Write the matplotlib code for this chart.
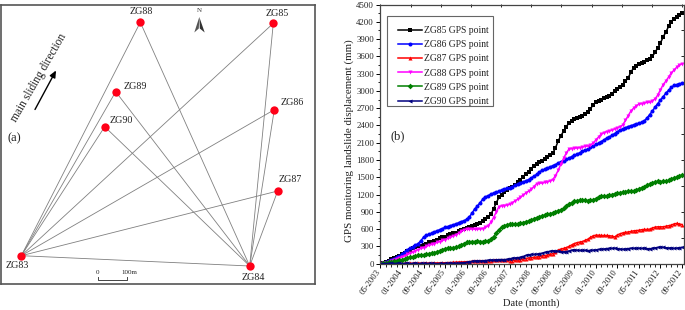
import matplotlib
matplotlib.use("Agg")
import matplotlib.pyplot as plt
from matplotlib.ticker import MultipleLocator, FixedLocator, NullFormatter
from matplotlib.patches import Polygon, Rectangle

plt.rcParams['font.family'] = ['Liberation Serif', 'DejaVu Serif']

W, H = 685, 310

# ---- panel (a) survey network, map positions
stations = ["ZG83", "ZG84", "ZG85", "ZG86", "ZG87", "ZG88", "ZG89", "ZG90"]
map_x = [21.3, 249.7, 273.3, 274.3, 277.7, 140.3, 115.7, 104.7]
map_y = [255.7, 266.0, 23.3, 109.7, 191.0, 22.3, 91.7, 126.7]
label_x = [17.3, 253.7, 276.7, 292.3, 289.7, 141.0, 135.7, 121.0]
label_y = [266.0, 277.0, 13.7, 102.3, 179.3, 12.0, 86.7, 120.7]

# ---- panel (b) monthly displacement (mm)
tick_months = ["05-2003", "01-2004", "09-2004", "05-2005", "01-2006", "09-2006", "05-2007", "01-2008",
               "09-2008", "05-2009", "01-2010", "09-2010", "05-2011", "01-2012", "09-2012"]
zg85 = [0, 15, 35, 55, 75, 95, 115, 135, 160, 190, 215, 245, 270, 285, 300, 315, 330, 350, 370, 385,
        400, 420, 440, 455, 470, 490, 510, 525, 540, 560, 585, 605, 625, 645, 660, 670, 685, 710, 740, 775,
        810, 860, 950, 1060, 1150, 1200, 1240, 1280, 1320, 1340, 1370, 1410, 1460, 1510, 1560, 1600,
        1650, 1700, 1730, 1760, 1780, 1810, 1850, 1880, 1920, 2010, 2130, 2220, 2300, 2380, 2440, 2480,
        2510, 2530, 2550, 2570, 2600, 2640, 2690, 2760, 2800, 2820, 2850, 2880, 2900, 2920, 2950, 3000,
        3040, 3070, 3110, 3170, 3230, 3320, 3400, 3440, 3470, 3490, 3510, 3530, 3550, 3600, 3670, 3750,
        3830, 3940, 4020, 4120, 4200, 4250, 4290, 4320, 4350]
zg86 = [0, 15, 30, 50, 70, 90, 110, 130, 160, 210, 240, 265, 290, 320, 350, 400, 460, 490, 510, 530,
        550, 570, 590, 610, 630, 645, 660, 675, 690, 710, 730, 745, 770, 810, 880, 950, 1000, 1060, 1120, 1160,
        1180, 1210, 1225, 1240, 1260, 1280, 1295, 1310, 1320, 1340, 1360, 1380, 1400, 1420, 1440, 1460,
        1490, 1520, 1550, 1590, 1620, 1640, 1660, 1680, 1700, 1720, 1750, 1770, 1790, 1810, 1830, 1860,
        1880, 1900, 1925, 1950, 1970, 1990, 2020, 2040, 2070, 2090, 2120, 2150, 2180, 2200, 2230, 2260,
        2290, 2320, 2340, 2360, 2380, 2395, 2410, 2425, 2440, 2455, 2480, 2530, 2590, 2650, 2720, 2780,
        2840, 2900, 2960, 3010, 3060, 3095, 3110, 3125, 3130]
zg87 = [0, 0, 2, 2, 3, 3, 5, 5, 3, 5, 8, 5, 6, 8, 10, 8, 10, 12, 10, 12,
        15, 12, 15, 18, 15, 18, 20, 22, 25, 28, 30, 32, 35, 35, 40, 45, 50, 52, 50, 48,
        50, 55, 58, 60, 62, 60, 60, 58, 55, 55, 60, 65, 72, 80, 90, 100,
        105, 110, 115, 125, 135, 140, 150, 160, 175, 200, 235, 255, 265, 280, 300, 325,
        350, 365, 375, 385, 405, 425, 455, 485, 495, 495, 490, 490, 490, 485, 480, 465,
        500, 520, 535, 545, 550, 560, 570, 575, 580, 590, 595, 595, 600, 620, 635, 640,
        640, 640, 650, 660, 670, 690, 700, 690, 680]
zg88 = [0, 5, 15, 30, 50, 70, 85, 100, 120, 140, 160, 180, 200, 225, 245, 265, 280, 300, 320, 335,
        350, 370, 385, 405, 420, 440, 460, 480, 500, 530, 560, 590, 600, 600, 605, 600, 600, 605, 610, 630,
        660, 720, 800, 900, 990, 1005, 1010, 1020, 1030, 1060, 1090, 1120, 1150, 1190, 1230, 1260,
        1290, 1340, 1390, 1400, 1400, 1410, 1420, 1440, 1460, 1530, 1620, 1730, 1830, 1920, 1990, 2000,
        2005, 2010, 2015, 2025, 2035, 2045, 2060, 2090, 2150, 2200, 2250, 2275, 2295, 2305, 2320, 2340,
        2360, 2380, 2410, 2490, 2570, 2650, 2700, 2740, 2770, 2780, 2790, 2800, 2800, 2830, 2860, 2930,
        3020, 3110, 3170, 3240, 3310, 3360, 3410, 3450, 3470]
zg89 = [0, 8, 15, 22, 30, 40, 50, 60, 70, 85, 100, 115, 120, 130, 145, 150, 150, 160, 175, 185,
        190, 205, 225, 245, 260, 270, 275, 280, 285, 300, 320, 350, 370, 380, 385, 385, 390, 385, 385, 390,
        400, 430, 470, 530, 590, 630, 660, 675, 685, 690, 690, 695, 700, 715, 730, 740,
        755, 780, 800, 815, 830, 845, 860, 870, 880, 900, 920, 935, 960, 1000, 1040, 1060,
        1080, 1095, 1100, 1105, 1100, 1095, 1100, 1110, 1130, 1160, 1175, 1180, 1175, 1190, 1200, 1215,
        1225, 1235, 1240, 1250, 1260, 1255, 1265, 1280, 1300, 1320, 1340, 1360, 1385, 1405, 1420, 1430,
        1425, 1430, 1430, 1445, 1470, 1490, 1505, 1525, 1540]
zg90 = [0, 2, 3, 5, 5, 3, 5, 4, 3, 5, 4, 3, 5, 4, 2, 5, 4, 3, 5, 4,
        3, 2, 4, 3, 5, 6, 5, 4, 5, 8, 12, 18, 25, 32, 40, 48, 50, 45, 50, 55,
        60, 65, 62, 65, 70, 72, 70, 75, 85, 95, 100, 105, 110, 125, 145, 155,
        160, 160, 165, 175, 180, 195, 205, 215, 225, 220, 215, 210, 205, 210, 220, 235,
        240, 235, 230, 230, 232, 228, 230, 235, 240, 248, 250, 255, 262, 268, 265, 270,
        262, 255, 250, 255, 262, 270, 268, 265, 270, 265, 270, 262, 258, 268, 275, 282,
        290, 285, 278, 272, 275, 265, 270, 278, 282]
series_names = ["ZG85 GPS point", "ZG86 GPS point", "ZG87 GPS point",
                "ZG88 GPS point", "ZG89 GPS point", "ZG90 GPS point"]
series_values = [zg85, zg86, zg87, zg88, zg89, zg90]
series_colors = ["#000000", "#0000ff", "#ff0000", "#ff00ff", "#007f00", "#00007f"]
series_markers = ["s", "o", "^", "v", "D", "<"]

fig = plt.figure(figsize=(W / 100, H / 100), dpi=100)


def rect(l, t, r, b):
    return [l / W, 1 - b / H, (r - l) / W, (b - t) / H]


def ftext(x, y, s, **kw):
    kw.setdefault("ha", "center")
    kw.setdefault("va", "center")
    fig.text(x / W, 1 - y / H, s, color=kw.pop("color", "#222222"), **kw)


# ---------- panel (a)
L, T, R, B = 1, 4.5, 315, 284
axa = fig.add_axes(rect(L, T, R, B))
axa.set_xlim(L, R)
axa.set_ylim(B, T)
axa.set_xticks([])
axa.set_yticks([])
for s in axa.spines.values():
    s.set_color("#555555")
    s.set_linewidth(1.2)
for i in range(2, len(stations)):
    for base in (0, 1):
        axa.plot([map_x[base], map_x[i]], [map_y[base], map_y[i]], color="#808080", lw=0.6, zorder=1)
axa.plot(map_x[:2], map_y[:2], color="#808080", lw=0.6, zorder=1)
axa.scatter(map_x, map_y, s=36, color="#ff0018", zorder=3, linewidths=0)
for name, x, y in zip(stations, label_x, label_y):
    axa.text(x, y, name, fontsize=7.2, ha="center", va="center", color="#222222")
axa.annotate("", xy=(56, 70.5), xytext=(35, 109.5),
             arrowprops=dict(arrowstyle="-|>,head_width=0.18,head_length=0.4", color="black", lw=1.0,
                             shrinkA=0, shrinkB=0))
axa.text(38.5, 78, "main sliding direction", fontsize=8.3, rotation=60, rotation_mode="anchor",
         ha="center", va="center", color="#222222")
axa.text(14, 138, "(a)", fontsize=9, ha="center", va="center", color="#222222")
axa.text(199.3, 10.5, "N", fontsize=5, ha="center", va="center", color="#333333")
axa.add_patch(Polygon([(199.3, 17), (204.7, 32.5), (199.8, 28.5)], closed=True, fc="#333333", ec="none"))
axa.add_patch(Polygon([(199.3, 17), (194.3, 32.5), (198.8, 28.5)], closed=True, fc="#555555", ec="none"))
axa.plot([97.7, 97.7, 127.3, 127.3], [276.7, 280, 280, 276.7], color="#444444", lw=0.7)
axa.text(97.7, 272.7, "0", fontsize=5, ha="center", va="center", color="#222222")
axa.text(129, 272.7, "100m", fontsize=5, ha="center", va="center", color="#222222")

# ---------- panel (b)
axb = fig.add_axes(rect(380.5, 4.5, 683.5, 263.7))
months = list(range(len(zg85)))
for name, vals, c, m in zip(series_names, series_values, series_colors, series_markers):
    axb.plot(months, vals, color=c, lw=1.1, marker=m, ms=2.9, mew=0, label=name, clip_on=True)
axb.set_xlim(0, 112.55)
axb.set_ylim(0, 4500)
major_x = [i * 8 for i in range(len(tick_months))]
axb.xaxis.set_major_locator(FixedLocator(major_x))
axb.xaxis.set_major_formatter(NullFormatter())
for xm, lab in zip(major_x, tick_months):
    axb.annotate(lab, xy=(xm, 0), xycoords=("data", "axes fraction"), xytext=(-1.0, -5.0),
                 textcoords="offset points", rotation=54, rotation_mode="anchor",
                 ha="right", va="center", fontsize=6.2, color="#222222", annotation_clip=False)
axb.xaxis.set_minor_locator(MultipleLocator(2))
axb.yaxis.set_major_locator(MultipleLocator(300))
axb.yaxis.set_minor_locator(MultipleLocator(150))
axb.tick_params(axis="y", which="major", labelsize=6.3, length=3.2, width=0.7, pad=1.5, labelcolor="#222222")
axb.tick_params(axis="y", which="minor", length=1.8, width=0.6)
axb.tick_params(axis="x", which="major", length=3.2, width=0.7, pad=2)
axb.tick_params(axis="x", which="minor", length=1.8, width=0.6)
for s in axb.spines.values():
    s.set_color("#444444")
    s.set_linewidth(0.9)
top = axb.secondary_xaxis("top")
top.xaxis.set_major_locator(MultipleLocator(11.2))
top.xaxis.set_major_formatter(NullFormatter())
top.tick_params(direction="in", length=2.5, width=0.6)
top.spines["top"].set_visible(False)
right = axb.secondary_yaxis("right")
right.yaxis.set_major_locator(MultipleLocator(450))
right.yaxis.set_major_formatter(NullFormatter())
right.tick_params(direction="in", length=2.5, width=0.6)
right.spines["right"].set_visible(False)

# legend frame is asymmetric in the reference, so it is drawn apart from the entries
fig.add_artist(Rectangle((387.3 / W, 1 - 106 / H), 105.4 / W, 90 / H, transform=fig.transFigure,
                         fc="white", ec="#666666", lw=0.8, zorder=3))
leg = axb.legend(loc="upper left", bbox_to_anchor=(17.5 / 303, 1 - 21.5 / 259.2), fontsize=6.9,
                 frameon=False, borderaxespad=0, borderpad=0,
                 handlelength=2.5, handletextpad=0.2, labelspacing=0.54, labelcolor="#222222")
leg.set_zorder(5)
axb.set_zorder(4)
axb.patch.set_alpha(0)
ftext(397.5, 136, "(b)", fontsize=9)
ftext(349, 141, "GPS monitoring landslide displacement (mm)", fontsize=7.9, rotation=90)
ftext(531.7, 303, "Date (month)", fontsize=7.6)

fig.savefig("out.png", dpi=100)
